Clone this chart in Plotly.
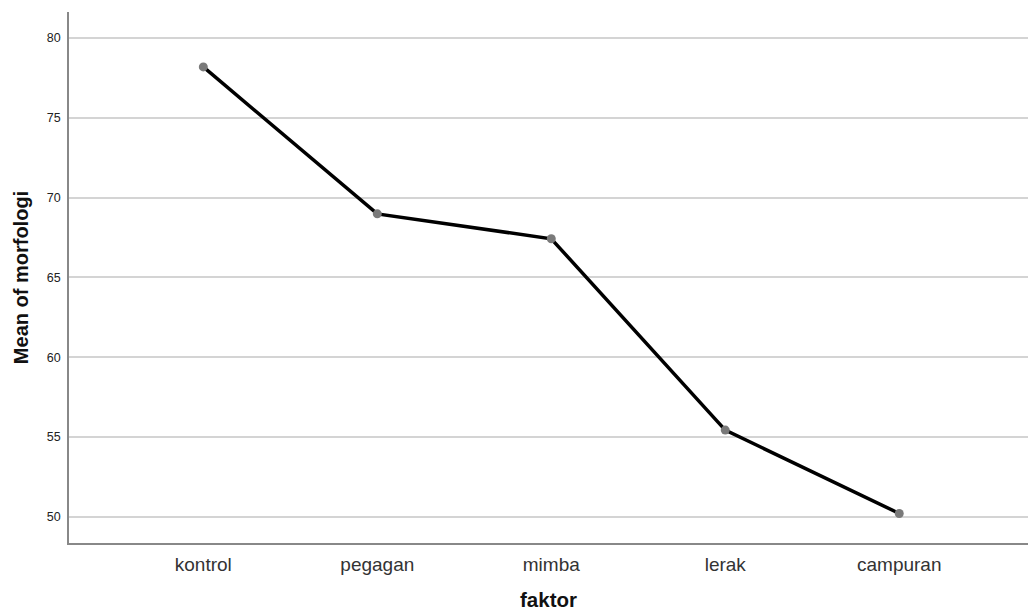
import plotly.graph_objects as go

categories = ["kontrol", "pegagan", "mimba", "lerak", "campuran"]
means = [78.18, 68.98, 67.42, 55.44, 50.22]
y_ticks = [50, 55, 60, 65, 70, 75, 80]

fig = go.Figure()
fig.add_trace(go.Scatter(
    x=list(range(len(categories))), y=means, mode="lines+markers",
    line=dict(color="black", width=3.5),
    marker=dict(color="#7a7a7a", size=9),
    showlegend=False,
))

fig.update_layout(
    width=1028, height=611,
    margin=dict(l=69, r=0, t=12, b=68),
    paper_bgcolor="white", plot_bgcolor="white",
    font=dict(family="Liberation Sans, Arial, sans-serif", color="#111"),
    xaxis=dict(
        range=[-0.772, 4.74],
        tickmode="array", tickvals=list(range(len(categories))), ticktext=categories,
        tickfont=dict(size=19, color="#333"),
        showgrid=False, zeroline=False,
        showline=True, linecolor="#888", linewidth=1.5,
        ticks="", ticklen=0, ticklabelstandoff=3,
        title=dict(text="<b>faktor</b>", font=dict(size=20.5, color="#111"), standoff=19),
    ),
    yaxis=dict(
        range=[48.37, 81.62],
        tickmode="array", tickvals=y_ticks,
        tickfont=dict(size=12.5, color="#222"),
        showgrid=True, gridcolor="#d4d4d4", gridwidth=1.5,
        zeroline=False,
        showline=True, linecolor="#888", linewidth=1.5,
        ticks="", ticklabelstandoff=4,
        title=dict(text="<b>Mean of morfologi</b>", font=dict(size=20, color="#111"), standoff=13),
    ),
)

fig.write_html(
    "out.html",
    config={"displayModeBar": False},
    post_script="document.body.style.margin='0';document.body.style.overflow='hidden';",
)
